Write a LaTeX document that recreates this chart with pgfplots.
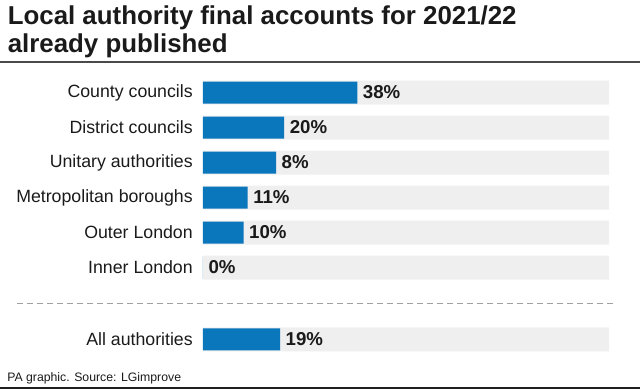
\documentclass[border=0pt]{standalone}
\usepackage{fontspec}
\setmainfont{Liberation Sans}
\usepackage{pgfplots}
\usepackage{pgfplotstable}
\pgfplotsset{compat=1.18}
\definecolor{pablue}{HTML}{0A77BD}
\definecolor{bggrey}{HTML}{EFEFEF}
\definecolor{txt}{HTML}{1A1A1A}
\definecolor{rulegrey}{HTML}{4A4A4A}
\definecolor{dashgrey}{HTML}{A0A0A0}

\pgfplotstableread[col sep=comma,row sep=\\]{
y,x,lab\\
0,38,38\%\\
1,20,20\%\\
2,18,8\%\\
3,11,11\%\\
4,10,10\%\\
5,0,0\%\\
7.057,19,19\%\\
}\datatable

\begin{document}
\begin{tikzpicture}
\begin{scope}[x=0.75pt,y=-0.75pt]
\path[use as bounding box] (0,0) rectangle (640,389);
\node[anchor=base west, inner sep=0pt, text=txt] at (7.5,24.3) {\fontsize{19.4pt}{21pt}\selectfont\bfseries Local authority final accounts for 2021/22};
\node[anchor=base west, inner sep=0pt, text=txt] at (7.5,52.3) {\fontsize{19.4pt}{21pt}\selectfont\bfseries already published};
\draw[rulegrey, line width=1.5pt] (0,61.5) -- (640,61.5);
\draw[dashgrey, line width=0.75pt, dash pattern=on 4.5pt off 3pt] (17,303) -- (615,303);
\node[anchor=base west, inner sep=0pt, text=txt] at (7,381) {\fontsize{9.2pt}{11pt}\selectfont PA graphic. Source: LGimprove};
\fill[black!88] (0,386.5) rectangle (640,389);
\end{scope}
\begin{axis}[
  at={(152.25pt,-56.25pt)}, anchor=north west,
  scale only axis, width=304.5pt, height=212.625pt,
  xmin=0, xmax=100, ymin=-0.5, ymax=7.6,
  y dir=reverse,
  axis line style={draw=none},
  major tick style={draw=none},
  xtick=\empty,
  ytick={0,1,2,3,4,5,7.057},
  yticklabels={County councils,District councils,Unitary authorities,Metropolitan boroughs,Outer London,Inner London,All authorities},
  yticklabel style={font=\fontsize{13.3pt}{15pt}\selectfont, text=txt, anchor=east, inner sep=0pt, xshift=-7.5pt},
  clip=false,
]
\addplot[xbar, bar width=18pt, bar shift=0pt, fill=bggrey, draw=none] coordinates {(100,0) (100,1) (100,2) (100,3) (100,4) (100,5) (100,7.057)};
\addplot[xbar, bar width=16.5pt, bar shift=0pt, fill=pablue, draw=none,
  nodes near coords, point meta=explicit symbolic,
  nodes near coords style={anchor=west, inner sep=0pt, xshift=4pt, text=txt, font=\fontsize{14pt}{16pt}\selectfont\bfseries}]
  table[x=x, y=y, meta=lab] {\datatable};
\end{axis}
\end{tikzpicture}
\end{document}
